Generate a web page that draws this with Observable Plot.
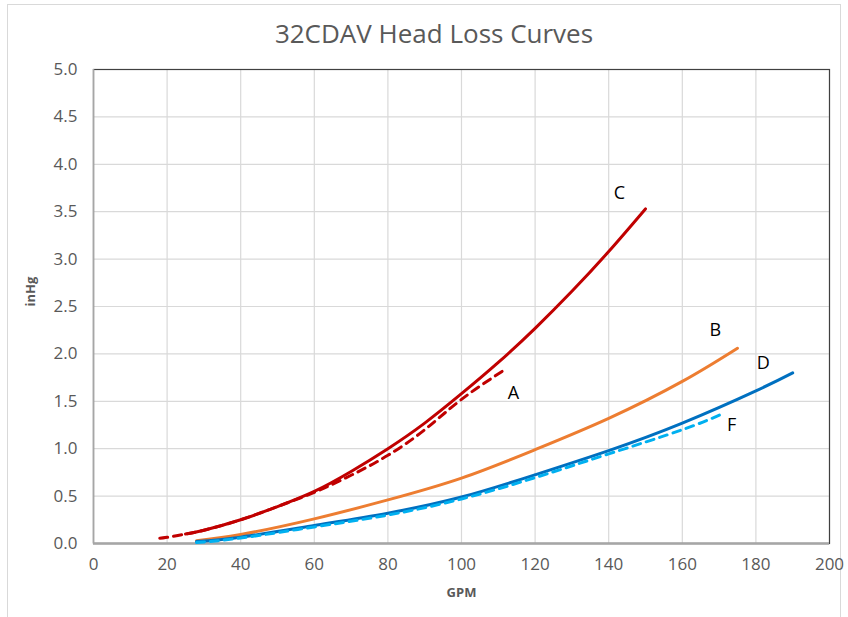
<!DOCTYPE html>
<html>
<head>
<meta charset="utf-8">
<script src="https://cdn.jsdelivr.net/npm/d3@7"></script>
<script src="https://cdn.jsdelivr.net/npm/@observablehq/plot@0.6"></script>
<style>
  html, body { margin: 0; padding: 0; background: #fff; }
  #wrap { position: relative; width: 848px; height: 617px; overflow: hidden; font-family: "Open Sans", sans-serif; }
  #border { position: absolute; left: 7px; top: 4px; width: 834px; height: 640px; border: 1px solid #d9d9d9; box-sizing: border-box; }
  #title { position: absolute; left: 0; width: 868px; top: 15px; text-align: center; font-size: 26px; color: #595959; }
  #chart { position: absolute; left: 0; top: 50px; }
</style>
</head>
<body>
<div id="wrap">
  <div id="border"></div>
  <div id="title">32CDAV Head Loss Curves</div>
  <div id="chart"></div>
</div>
<script>
// ---- data ----
const gpmA  = [18, 20, 25, 30, 40, 50, 60, 70, 80, 90, 100, 112];
const inHgA = [0.055, 0.065, 0.10, 0.14, 0.25, 0.39, 0.54, 0.72, 0.93, 1.20, 1.52, 1.84];

const gpmC  = [25, 30, 40, 50, 60, 70, 80, 90, 100, 110, 120, 130, 140, 150];
const inHgC = [0.10, 0.14, 0.25, 0.39, 0.55, 0.76, 1.0, 1.27, 1.58, 1.91, 2.27, 2.66, 3.08, 3.53];

const gpmB  = [28, 40, 60, 80, 100, 120, 140, 160, 175];
const inHgB = [0.03, 0.095, 0.26, 0.46, 0.69, 0.99, 1.32, 1.71, 2.06];

const gpmD  = [28, 40, 60, 80, 100, 120, 140, 160, 180, 190];
const inHgD = [0.02, 0.067, 0.19, 0.32, 0.49, 0.725, 0.98, 1.27, 1.61, 1.80];

const gpmF  = [28, 40, 60, 80, 100, 120, 140, 160, 171];
const inHgF = [0.01, 0.058, 0.175, 0.30, 0.47, 0.695, 0.945, 1.20, 1.37];

const labelNames = ["C", "A", "B", "D", "F"];
const labelGpm   = [142.9, 114.1, 169, 182, 173.4];
const labelInHg  = [3.69, 1.59, 2.25, 1.90, 1.245];

const xTicks = [0, 20, 40, 60, 80, 100, 120, 140, 160, 180, 200];
const yTicks = [0, 0.5, 1, 1.5, 2, 2.5, 3, 3.5, 4, 4.5, 5];

// ---- build tables ----
const toRows = (xs, ys) => xs.map((x, i) => ({gpm: x, inHg: ys[i]}));
const A = toRows(gpmA, inHgA), C = toRows(gpmC, inHgC), B = toRows(gpmB, inHgB),
      D = toRows(gpmD, inHgD), F = toRows(gpmF, inHgF);
const labels = labelNames.map((n, i) => ({name: n, gpm: labelGpm[i], inHg: labelInHg[i]}));

const curve = "natural";
const chart = Plot.plot({
  width: 848,
  height: 567,
  marginLeft: 93,
  marginRight: 19,
  marginTop: 19,
  marginBottom: 74,
  style: {fontFamily: "Open Sans, sans-serif", background: "transparent"},
  x: {domain: [0, 200], ticks: xTicks, label: null},
  y: {domain: [0, 5], ticks: yTicks, label: null},
  marks: [
    Plot.gridX(xTicks, {stroke: "#d9d9d9", strokeOpacity: 1, strokeWidth: 1.2}),
    Plot.gridY(yTicks, {stroke: "#d9d9d9", strokeOpacity: 1, strokeWidth: 1.2}),
    Plot.frame({stroke: "#404040", strokeWidth: 1.2}),
    Plot.ruleX([0], {stroke: "#a6a6a6", strokeWidth: 1.5}),
    Plot.ruleY([0], {stroke: "#a6a6a6", strokeWidth: 2.5}),
    Plot.axisX({ticks: xTicks, tickSize: 0, tickPadding: 14, fontSize: 17, fill: "#595959", tickFormat: d => d3.format("d")(d)}),
    Plot.axisY({ticks: yTicks, tickSize: 0, tickPadding: 16, fontSize: 17, fill: "#595959", tickFormat: d => d3.format(".1f")(d)}),
    Plot.text(["GPM"], {frameAnchor: "bottom", dy: 53, fontSize: 13, fontWeight: "bold", fill: "#595959"}),
    Plot.text(["inHg"], {frameAnchor: "left", dx: -63, rotate: -90, fontSize: 13, fontWeight: "bold", fill: "#595959"}),
    Plot.line(B, {x: "gpm", y: "inHg", stroke: "#ED7D31", strokeWidth: 3, curve}),
    Plot.line(D, {x: "gpm", y: "inHg", stroke: "#0070C0", strokeWidth: 3, curve}),
    Plot.line(F, {x: "gpm", y: "inHg", stroke: "#00B0F0", strokeWidth: 3, strokeDasharray: "8,6", curve}),
    Plot.line(C, {x: "gpm", y: "inHg", stroke: "#C00000", strokeWidth: 3, curve}),
    Plot.line(A, {x: "gpm", y: "inHg", stroke: "#C00000", strokeWidth: 3, strokeDasharray: "8,6", curve}),
    Plot.text(labels, {x: "gpm", y: "inHg", text: "name", fontSize: 18, fill: "#000", stroke: "#fff", strokeWidth: 3})
  ]
});
document.getElementById("chart").appendChild(chart);
</script>
</body>
</html>
